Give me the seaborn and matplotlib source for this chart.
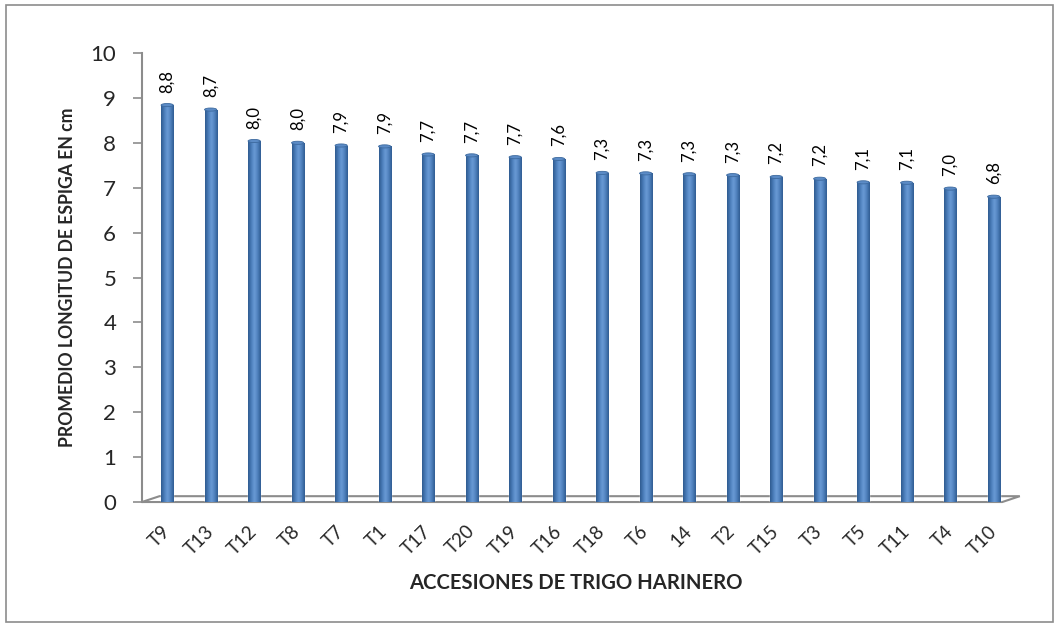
import numpy as np
import pandas as pd
import matplotlib
matplotlib.use("Agg")
import matplotlib.pyplot as plt
from matplotlib.patches import Polygon, Rectangle, Ellipse
import seaborn as sns

# Mean spike length per bread-wheat accession (cm)
accesiones = ["T9", "T13", "T12", "T8", "T7", "T1", "T17", "T20", "T19", "T16",
              "T18", "T6", "14", "T2", "T15", "T3", "T5", "T11", "T4", "T10"]
longitud = [8.84, 8.74, 8.04, 8.00, 7.94, 7.92, 7.74, 7.72, 7.68, 7.64,
            7.33, 7.32, 7.30, 7.28, 7.24, 7.20, 7.12, 7.11, 6.98, 6.80]
yticks = list(range(0, 11))

df = pd.DataFrame({"acc": accesiones, "val": longitud})

sns.set_theme(style="white")
plt.rcParams["font.family"] = ["Lato", "DejaVu Sans"]

fig = plt.figure(figsize=(10.59, 6.28), dpi=100)
ax = fig.add_axes([0.134, 0.2006, 0.829, 0.715])

base = "#4F81BD"
sns.barplot(data=df, x="acc", y="val", color=base, width=0.28,
            saturation=1, ax=ax, zorder=3)

# cylinder shading on each bar
shade = matplotlib.colors.LinearSegmentedColormap.from_list(
    "cyl", ["#2E5A8E", "#4A7DBA", "#6A9BD6", "#4F81BD", "#2F5C92"])
grad = np.linspace(0, 1, 64).reshape(1, -1)
for p in ax.patches:
    x0, w, h = p.get_x(), p.get_width(), p.get_height()
    im = ax.imshow(grad, extent=[x0, x0 + w, 0, h], aspect="auto",
                   cmap=shade, zorder=4, interpolation="bicubic")
    im.set_clip_path(p)
    ax.add_patch(Ellipse((x0 + w / 2, h), w, 0.07, facecolor="#5B8BC6",
                         edgecolor="#3D6A9F", lw=0.6, zorder=5))
    ax.annotate(f"{h:.1f}".replace(".", ","), (x0 + w / 2, h),
                xytext=(0, 9), textcoords="offset points",
                rotation=90, ha="center", va="bottom", fontsize=12,
                color="black", zorder=6)

ax.set_xlim(-0.58, 19.6)
ax.set_ylim(0, 10)
ax.set_yticks(yticks)
ax.tick_params(axis="y", labelsize=16, length=6.5, width=1.2, color="#8C8C8C",
               direction="out", pad=12, left=True)
ax.tick_params(axis="x", length=0, pad=19)
plt.setp(ax.get_xticklabels(), rotation=45, ha="right", va="center",
         rotation_mode="anchor", fontsize=13.5)

for s in ["top", "right", "bottom"]:
    ax.spines[s].set_visible(False)
ax.spines["left"].set_color("#8C8C8C")
ax.spines["left"].set_linewidth(1.5)

# floor of the 3D plot
floor = Polygon([(0.0, 0.0), (0.98, 0.0), (1.0, 0.013), (0.02, 0.013)],
                closed=True, transform=ax.transAxes, facecolor="white",
                edgecolor="#8C8C8C", lw=1.5, zorder=2, clip_on=False)
ax.add_patch(floor)

ax.set_xlabel("ACCESIONES DE TRIGO HARINERO", fontsize=14.6, fontweight="bold")
ax.xaxis.set_label_coords(0.494, -0.158)
ax.set_ylabel("PROMEDIO LONGITUD DE ESPIGA EN cm", fontsize=12.7,
              fontweight="bold")
ax.yaxis.set_label_coords(-0.075, 0.5)

# outer chart border
fig.patches.append(Rectangle((0.006, 0.01), 0.988, 0.982, transform=fig.transFigure,
                             fill=False, edgecolor="#8C8C8C", lw=1.2))

fig.savefig("out.png", dpi=100)
